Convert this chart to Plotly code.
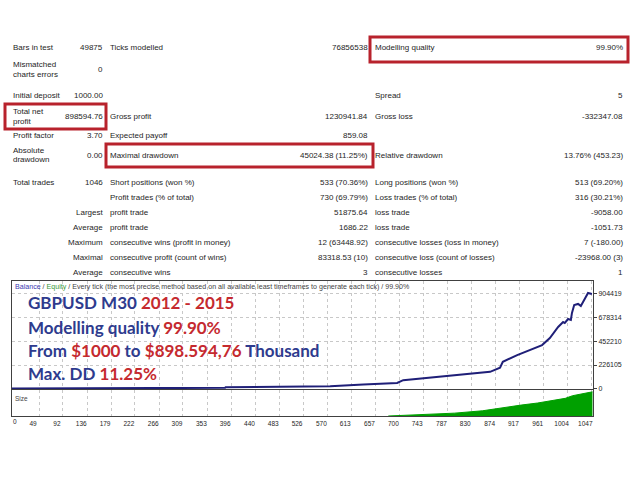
import plotly.graph_objects as go

# ---- report table (MT4 strategy tester summary) ----
COL1_LABELS = ["Bars in test", "Mismatched\ncharts errors", "Initial deposit", "Total net\nprofit",
               "Profit factor", "Absolute\ndrawdown", "Total trades", "", "", "", "", "", ""]
COL2_VALUES = ["49875", "0", "1000.00", "898594.76", "3.70", "0.00", "1046", "",
               "Largest", "Average", "Maximum", "Maximal", "Average"]
COL3_LABELS = ["Ticks modelled", "", "", "Gross profit", "Expected payoff", "Maximal drawdown",
               "Short positions (won %)", "Profit trades (% of total)", "profit trade", "profit trade",
               "consecutive wins (profit in money)", "consecutive profit (count of wins)",
               "consecutive wins"]
COL4_VALUES = ["76856538", "", "", "1230941.84", "859.08", "45024.38 (11.25%)", "533 (70.36%)",
               "730 (69.79%)", "51875.64", "1686.22", "12 (63448.92)", "83318.53 (10)", "3"]
COL5_LABELS = ["Modelling quality", "", "Spread", "Gross loss", "", "Relative drawdown",
               "Long positions (won %)", "Loss trades (% of total)", "loss trade", "loss trade",
               "consecutive losses (loss in money)", "consecutive loss (count of losses)",
               "consecutive losses"]
COL6_VALUES = ["99.90%", "", "5", "-332347.08", "", "13.76% (453.23)", "513 (69.20%)",
               "316 (30.21%)", "-9058.00", "-1051.73", "7 (-180.00)", "-23968.00 (3)", "1"]
ROW_Y = [48, 69, 96, 116, 135, 155, 182, 197, 212, 227, 242, 257, 272]

# ---- balance curve (trade number -> balance) ----
BAL_TRADES = [0, 100, 200, 300, 385, 386, 476, 530, 575, 635, 696, 707, 756, 816, 864, 882,
              887, 913, 936, 958, 972, 987, 996, 999, 1005, 1010, 1012, 1016, 1023, 1028,
              1032, 1039, 1041, 1048]
BAL_VALUES = [1000, 2000, 3500, 5500, 8000, 14000, 18000, 22000, 24000, 40000, 55000, 81000,
              107000, 132000, 161000, 200000, 256000, 321000, 368000, 416000, 483000, 589000,
              636000, 627000, 665000, 656000, 723000, 799000, 809000, 790000, 828000, 895000,
              914000, 904000]

# ---- size panel ----
SIZE_TRADES = [680, 700, 750, 800, 850, 888, 920, 950, 980, 1000, 1013, 1030, 1045, 1049]
SIZE_VALUES = [0, 2, 5, 11, 20, 33, 42, 50, 60, 68, 78, 85, 92, 93]

X_TICKS = [0, 49, 92, 136, 179, 222, 266, 309, 353, 396, 440, 483, 526, 570, 613, 657, 700,
           743, 787, 830, 874, 917, 961, 1004, 1047]
Y_TICKS = [0, 226105, 452210, 678314, 904419]

W, H = 640, 480
def px(x):
    return x / W
def py(y):
    return 1 - y / H

BLUE = "#2e3b8e"
RED = "#c52a2f"
BOX = "#b8222c"
TXT = "#1e1e1e"
GRID = "#c8c8c8"
FONT = "Liberation Sans, Arial, sans-serif"

fig = go.Figure()
fig.add_trace(go.Scatter(x=BAL_TRADES, y=BAL_VALUES, mode="lines",
                         line=dict(color="#1f1f78", width=2), xaxis="x", yaxis="y"))
fig.add_trace(go.Scatter(x=SIZE_TRADES, y=SIZE_VALUES, mode="lines", fill="tozeroy",
                         line=dict(color="#00a000", width=1), fillcolor="#00a000",
                         xaxis="x2", yaxis="y2"))

annotations = []
def text(x, y, s, anchor="left", size=8, color=TXT):
    annotations.append(dict(x=px(x), y=py(y), xref="paper", yref="paper", text=s,
                            showarrow=False, xanchor=anchor, yanchor="middle",
                            font=dict(family=FONT, size=size, color=color)))

def cell(x, y, s, anchor):
    if not s:
        return
    lines = s.split("\n")
    off = (len(lines) - 1) * 4.5
    for i, ln in enumerate(lines):
        text(x, y - off + i * 9.5, ln, anchor)

for i, y in enumerate(ROW_Y):
    cell(11, y, COL1_LABELS[i], "left")
    cell(105, y, COL2_VALUES[i], "right")
    cell(108, y, COL3_LABELS[i], "left")
    cell(370, y, COL4_VALUES[i], "right")
    cell(373, y, COL5_LABELS[i], "left")
    cell(625, y, COL6_VALUES[i], "right")

# chart header
text(13, 287, "<span style='color:#3a3ab0'>Balance</span> / <span style='color:#3a9a3a'>Equity</span>"
     " / Every tick (the most precise method based on all available least timeframes to generate each tick) / 99.90%",
     size=7.1, color="#444")
text(13, 398, "Size", size=6.5, color="#444")
# first x label sits at the left edge of the frame in the original
text(15, 421, str(X_TICKS[0]), anchor="center", size=6.5)

# overlay caption
BIG = "Lato, Open Sans, sans-serif"
CAPTION_Y = [302, 327, 350, 373]
CAPTION_PARTS = [
    [("GBPUSD M30 ", BLUE), ("2012 - 2015", RED)],
    [("Modelling quality ", BLUE), ("99.90%", RED)],
    [("From ", BLUE), ("$1000", RED), (" to ", BLUE), ("$898.594,76", RED), (" Thousand", BLUE)],
    [("Max. DD ", BLUE), ("11.25%", RED)],
]
for parts, y in zip(CAPTION_PARTS, CAPTION_Y):
    s = "".join(f"<span style='color:{c}'>{t}</span>" for t, c in parts)
    annotations.append(dict(x=px(26), y=py(y), xref="paper", yref="paper", text="<b>" + s + "</b>",
                            showarrow=False, xanchor="left", yanchor="middle",
                            font=dict(family=BIG, size=17)))

shapes = []
for x0, y0, x1, y1 in [(370, 37, 628, 62), (5, 104, 106, 129), (106, 144, 373, 167)]:
    shapes.append(dict(type="rect", xref="paper", yref="paper", x0=px(x0), x1=px(x1),
                       y0=py(y1), y1=py(y0), line=dict(color=BOX, width=3)))

axis_common = dict(showline=True, mirror=True, linecolor="#404040", linewidth=1, zeroline=False,
                   automargin=False)
fig.update_layout(
    width=W, height=H, margin=dict(l=0, r=0, t=0, b=0, pad=0),
    paper_bgcolor="white", plot_bgcolor="white", showlegend=False, hovermode=False,
    xaxis=dict(domain=[px(12), px(593)], range=[0, 1050], anchor="y", tickvals=X_TICKS,
               showticklabels=False, showgrid=True, gridcolor=GRID, griddash="3px,3px",
               ticks="", **axis_common),
    yaxis=dict(domain=[py(389), py(281)], range=[-3000, 1028000], anchor="x", side="right",
               tickvals=Y_TICKS, ticktext=[str(v) for v in Y_TICKS], showgrid=True,
               gridcolor=GRID, griddash="3px,3px", ticks="outside", ticklen=3,
               tickcolor="#404040", tickfont=dict(family=FONT, size=7, color=TXT), **axis_common),
    xaxis2=dict(domain=[px(12), px(593)], range=[0, 1050], anchor="y2", tickvals=X_TICKS[1:],
                ticktext=[str(v) for v in X_TICKS[1:]], showgrid=True, gridcolor=GRID,
                griddash="3px,3px", ticks="", ticklabelshift=-6, ticklabelstandoff=1,
                ticklabeloverflow="allow",
                tickfont=dict(family=FONT, size=6.5, color=TXT), **axis_common),
    yaxis2=dict(domain=[py(416), py(390)], range=[0, 100], anchor="x2", showticklabels=False,
                showgrid=False, ticks="", **axis_common),
    annotations=annotations, shapes=shapes,
)

fig.write_html("out.html", config={"displayModeBar": False},
               post_script="document.body.style.margin='0';")
